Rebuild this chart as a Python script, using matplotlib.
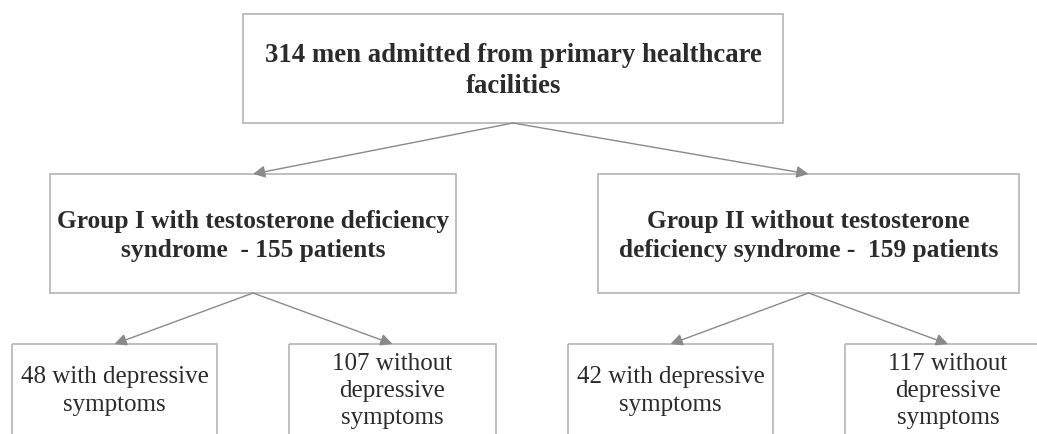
import matplotlib.pyplot as plt
from matplotlib.patches import Rectangle, FancyArrowPatch

# flowchart text
top_label = "314 men admitted from primary healthcare\nfacilities"
group_labels = [
    "Group I with testosterone deficiency\nsyndrome  - 155 patients",
    "Group II without testosterone\ndeficiency syndrome -  159 patients",
]
leaf_labels = [
    "48 with depressive\nsymptoms",
    "107 without\ndepressive\nsymptoms",
    "42 with depressive\nsymptoms",
    "117 without\ndepressive\nsymptoms",
]

W, H = 1037, 434
fig = plt.figure(figsize=(W / 100, H / 100), dpi=100)
ax = fig.add_axes([0, 0, 1, 1])
ax.set_xlim(0, W)
ax.set_ylim(H, 0)
ax.axis("off")

edge = "#b4b4b4"
txt = "#2b2b2b"
arrow_c = "#8a8a8a"
serif = ["Liberation Serif", "DejaVu Serif"]

def box(x0, y0, x1, y1, label, size, weight, ty=None):
    ax.add_patch(Rectangle((x0, y0), x1 - x0, y1 - y0, fill=False,
                           edgecolor=edge, linewidth=1.2))
    ax.text((x0 + x1) / 2, (y0 + y1) / 2 if ty is None else ty, label,
            ha="center", va="center",
            fontsize=size, fontweight=weight, family=serif, color=txt,
            linespacing=1.3)

def arrow(p0, p1):
    ax.add_patch(FancyArrowPatch(p0, p1, arrowstyle="-|>", mutation_scale=18,
                                 color=arrow_c, linewidth=1.0,
                                 shrinkA=0, shrinkB=0))

# top box
box(243, 14, 783, 123, top_label, 19.3, "bold", ty=71)

# group boxes
group_boxes = [(50, 174, 456, 293), (598, 174, 1019, 293)]
for (x0, y0, x1, y1), lab in zip(group_boxes, group_labels):
    box(x0, y0, x1, y1, lab, 18.3, "bold", ty=236)
    arrow((513, 123), ((x0 + x1) / 2, y0))

# leaf boxes
leaf_boxes = [(12, 344, 217, 436), (289, 344, 496, 436),
              (568, 344, 773, 436), (845, 344, 1051, 436)]
for i, ((x0, y0, x1, y1), lab) in enumerate(zip(leaf_boxes, leaf_labels)):
    box(x0, y0, x1, y1, lab, 18, "normal", ty=391)
    gx0, gy0, gx1, gy1 = group_boxes[i // 2]
    arrow(((gx0 + gx1) / 2, gy1), ((x0 + x1) / 2, y0))

fig.savefig("out.png", dpi=100, facecolor="white")
